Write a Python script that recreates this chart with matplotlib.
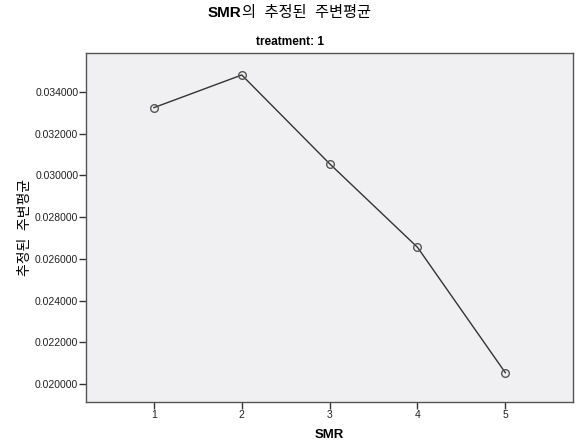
import matplotlib
matplotlib.use("Agg")
import matplotlib.pyplot as plt
from matplotlib.ticker import FormatStrFormatter

plt.rcParams['font.family'] = ['Liberation Sans', 'Noto Sans CJK KR', 'DejaVu Sans']

smr_levels = [1, 2, 3, 4, 5]
estimated_means = [0.03325, 0.034815, 0.03056, 0.026554, 0.020542]
y_ticks = [0.020, 0.022, 0.024, 0.026, 0.028, 0.030, 0.032, 0.034]

fig = plt.figure(figsize=(5.76, 4.43), dpi=100)
ax = fig.add_axes([0.1493, 0.0926, 0.8455, 0.7878])
ax.set_facecolor('#f0f0f2')

ax.plot(smr_levels, estimated_means, color='#333333', linewidth=1.0,
        marker='o', markersize=5.5, markerfacecolor='none',
        markeredgecolor='#555555', markeredgewidth=1.0)

ax.set_xlim(0.227, 5.77)
ax.set_ylim(0.01914, 0.03587)
ax.set_xticks(smr_levels)
ax.set_yticks(y_ticks)
ax.yaxis.set_major_formatter(FormatStrFormatter('%.6f'))
ax.tick_params(axis='both', direction='out', length=5, width=1,
               color='#333333', labelsize=7.5, labelcolor='#222222', pad=1)
ax.tick_params(axis='y', pad=0.5)

for side in ['left', 'right', 'top', 'bottom']:
    ax.spines[side].set_color('#555555')
    ax.spines[side].set_linewidth(1.0)

ax.set_xlabel('SMR', fontsize=9.5, fontweight='bold', labelpad=6)
ax.set_ylabel('추정된  주변평균', fontsize=10, labelpad=2)

# Title: bold variable name followed by regular Korean text
t1 = fig.text(0.361, 0.970, 'SMR', ha='left', va='center',
              fontsize=11, fontweight='bold')
ax.annotate('의  추정된  주변평균', xy=(1, 0.5), xycoords=t1,
            ha='left', va='center', fontsize=11)
fig.text(0.503, 0.905, 'treatment: 1', ha='center', va='center',
         fontsize=8.6, fontweight='bold')

fig.savefig('out.png', dpi=100, facecolor='white')
